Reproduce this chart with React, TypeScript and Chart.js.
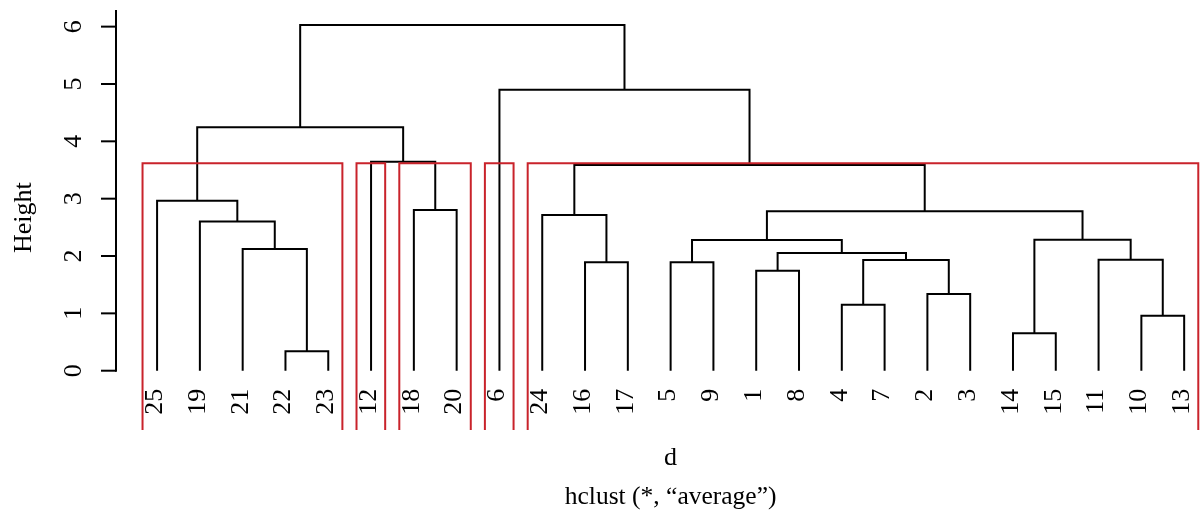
import React, { useEffect, useRef } from "react";
import { Chart, registerables } from "chart.js";

Chart.register(...registerables);

// Leaf order along the x axis (left to right)
const leafOrder = [25, 19, 21, 22, 23, 12, 18, 20, 6, 24, 16, 17, 5, 9, 1, 8, 4, 7, 2, 3, 14, 15, 11, 10, 13];

// hclust-style merge table: negative = leaf label, positive = earlier merge (1-based)
const mergeLeft = [-22, -14, -10, -4, -2, -1, -16, -5, 4, -11, 6, -21, 8, 2, -19, -24, 13, -18, -25, 16, -12, 19, -6, 22];
const mergeRight = [-23, -15, -13, -7, -3, -8, -17, -9, 5, 3, 9, 1, 11, 10, 12, 7, 14, -20, 15, 17, 18, 21, 20, 23];
const mergeHeight = [0.338, 0.652, 0.959, 1.151, 1.338, 1.744, 1.891, 1.891, 1.931, 1.936, 2.053, 2.123, 2.28, 2.285, 2.6, 2.716, 2.78, 2.803, 2.965, 3.588, 3.645, 4.245, 4.9, 6.03];

// rect.hclust(k = 5): number of leaves in each cluster, left to right
const clusterSizes = [5, 1, 2, 1, 16];

const yTicks = [0, 1, 2, 3, 4, 5, 6];
const yTitle = "Height";
const xTitle = "d";
const caption = "hclust (*, \u201Caverage\u201D)";

const FONT = "'Liberation Serif', 'DejaVu Serif', serif";
const Y_MIN = -1.034;
const Y_MAX = 6.29;
const X_MIN = 0.04;
const X_MAX = 25.37;

function buildTree() {
  const pos = new Map<number, number>();
  leafOrder.forEach((l, i) => pos.set(l, i + 1));
  const mx: number[] = [];
  const segs: { x: number; y: number }[][] = [];
  const child = (c: number) =>
    c < 0 ? { x: pos.get(-c) as number, y: 0 } : { x: mx[c - 1], y: mergeHeight[c - 1] };
  for (let i = 0; i < mergeHeight.length; i++) {
    const a = child(mergeLeft[i]);
    const b = child(mergeRight[i]);
    const h = mergeHeight[i];
    mx[i] = (a.x + b.x) / 2;
    segs.push([
      { x: a.x, y: a.y },
      { x: a.x, y: h },
      { x: b.x, y: h },
      { x: b.x, y: b.y },
    ]);
  }
  return segs;
}

function buildRects() {
  const k = clusterSizes.length;
  const sorted = [...mergeHeight].sort((p, q) => q - p);
  const cut = (sorted[k - 2] + sorted[k - 1]) / 2;
  const rects: { x: number; y: number }[][] = [];
  let start = 0;
  for (const size of clusterSizes) {
    const left = start + 0.66;
    const right = start + size + 0.33;
    rects.push([
      { x: left, y: Y_MIN },
      { x: left, y: cut },
      { x: right, y: cut },
      { x: right, y: Y_MIN },
    ]);
    start += size;
  }
  return rects;
}

const textPlugin = {
  id: "dendroText",
  afterDraw(chart: any) {
    const ctx = chart.ctx as CanvasRenderingContext2D;
    const xs = chart.scales.x;
    const ys = chart.scales.y;
    const area = chart.chartArea;
    ctx.save();
    ctx.strokeStyle = "#000";
    ctx.fillStyle = "#000";
    ctx.lineWidth = 2;
    // y axis line
    const y0 = ys.getPixelForValue(0);
    ctx.beginPath();
    ctx.moveTo(area.left, area.top);
    ctx.lineTo(area.left, y0 + 1);
    ctx.stroke();
    // ticks + labels
    ctx.font = `26px ${FONT}`;
    for (const t of yTicks) {
      const py = ys.getPixelForValue(t);
      ctx.beginPath();
      ctx.moveTo(area.left - 15, py);
      ctx.lineTo(area.left, py);
      ctx.stroke();
      ctx.save();
      ctx.translate(area.left - 42, py);
      ctx.rotate(-Math.PI / 2);
      ctx.textAlign = "center";
      ctx.textBaseline = "middle";
      ctx.fillText(String(t), 0, 0);
      ctx.restore();
    }
    // y title
    ctx.save();
    ctx.font = `26px ${FONT}`;
    ctx.translate(24, (ys.getPixelForValue(0) + ys.getPixelForValue(6)) / 2 + 19);
    ctx.rotate(-Math.PI / 2);
    ctx.textAlign = "center";
    ctx.textBaseline = "middle";
    ctx.fillText(yTitle, 0, 0);
    ctx.restore();
    // leaf labels
    ctx.font = `26px ${FONT}`;
    leafOrder.forEach((lab, i) => {
      const px = xs.getPixelForValue(i + 1) - 2;
      ctx.save();
      ctx.translate(px, y0 + 18);
      ctx.rotate(-Math.PI / 2);
      ctx.textAlign = "right";
      ctx.textBaseline = "middle";
      ctx.fillText(String(lab), 0, 0);
      ctx.restore();
    });
    // x title and caption
    const cx = xs.getPixelForValue(13);
    ctx.textAlign = "center";
    ctx.textBaseline = "alphabetic";
    ctx.font = `26px ${FONT}`;
    ctx.fillText(xTitle, cx, 465);
    ctx.font = `25.5px ${FONT}`;
    ctx.fillText(caption, cx, 504);
    ctx.restore();
  },
};

export default function App() {
  const ref = useRef<HTMLCanvasElement | null>(null);
  useEffect(() => {
    if (!ref.current) return;
    const tree = buildTree();
    const rects = buildRects();
    const datasets: any[] = [];
    rects.forEach((r, i) =>
      datasets.push({
        label: `cluster ${i + 1}`,
        data: r,
        borderColor: "#c9232b",
        borderWidth: 2,
        pointRadius: 0,
        tension: 0,
        fill: false,
        order: 0,
      })
    );
    tree.forEach((s, i) =>
      datasets.push({
        label: `merge ${i + 1}`,
        data: s,
        borderColor: "#000000",
        borderWidth: 2,
        pointRadius: 0,
        tension: 0,
        fill: false,
        order: 1,
      })
    );
    const chart = new Chart(ref.current, {
      type: "line",
      data: { datasets },
      options: {
        animation: false,
        responsive: false,
        events: [],
        layout: { padding: { left: 116, right: 0, top: 10, bottom: 82 } },
        plugins: { legend: { display: false }, tooltip: { enabled: false } },
        scales: {
          x: { type: "linear", min: X_MIN, max: X_MAX, display: false },
          y: { type: "linear", min: Y_MIN, max: Y_MAX, display: false },
        },
      },
      plugins: [textPlugin],
    });
    return () => chart.destroy();
  }, []);
  return (
    <div style={{ position: "fixed", left: 0, top: 0, width: 1200, height: 512, background: "#fff" }}>
      <canvas ref={ref} width={1200} height={512} style={{ display: "block" }} />
    </div>
  );
}
